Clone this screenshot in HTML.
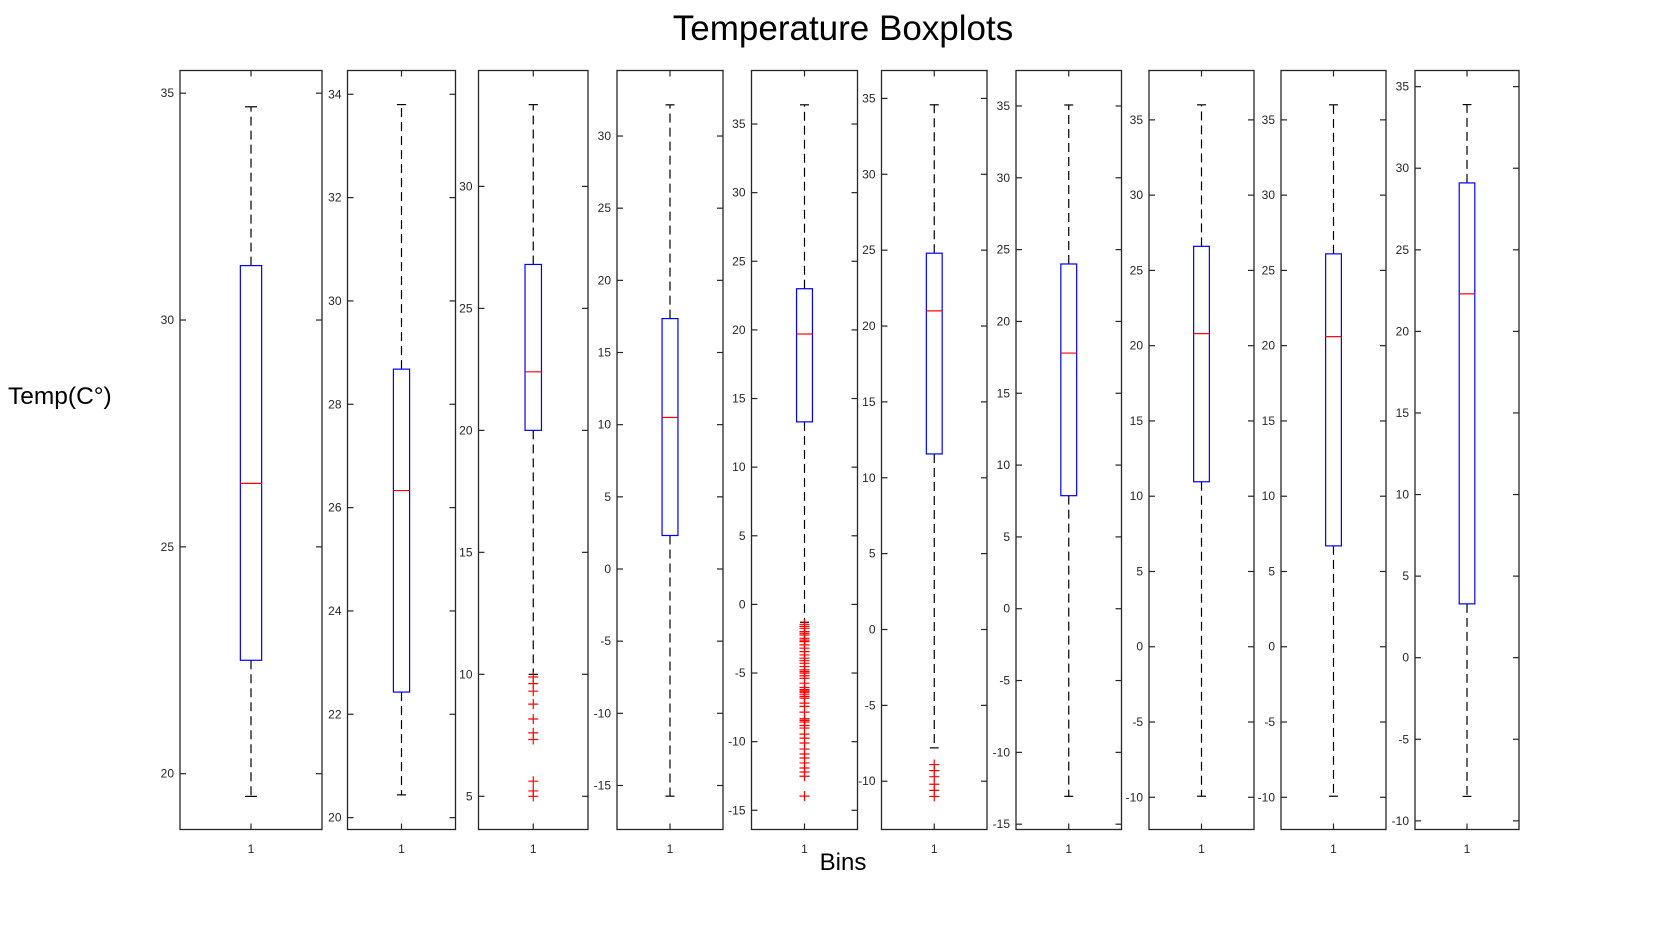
<!DOCTYPE html>
<html><head><meta charset="utf-8"><style>
html,body{margin:0;padding:0;background:#fff;}
svg{display:block;font-family:"Liberation Sans",Arial,sans-serif;}
</style></head><body>
<svg id="chart" width="1680" height="933" viewBox="0 0 1680 933" xmlns="http://www.w3.org/2000/svg">
<rect width="1680" height="933" fill="#fff"/>
<text x="843" y="40" text-anchor="middle" font-size="35" fill="#000">Temperature Boxplots</text>
<text x="8" y="404" font-size="24.5" fill="#000">Temp(C°)</text>
<text x="843" y="870" text-anchor="middle" font-size="24" fill="#000">Bins</text>
<g id="panels"></g>
</svg>
<script>
// Panel box-plot statistics
const binLabels = ["1","1","1","1","1","1","1","1","1","1"];
const whiskerLow = [19.5, 20.44, 10.0, -15.74, -1.3, -7.8, -13.06, -9.93, -9.93, -8.5];
const q1Values = [22.5, 22.43, 20.0, 2.32, 13.3, 11.57, 7.87, 10.96, 6.7, 3.3];
const medianValues = [26.4, 26.33, 22.4, 10.5, 19.7, 21.0, 17.8, 20.8, 20.6, 22.3];
const q3Values = [31.2, 28.68, 26.8, 17.35, 23.0, 24.8, 24.0, 26.6, 26.1, 29.1];
const whiskerHigh = [34.7, 33.8, 33.35, 32.16, 36.4, 34.58, 35.07, 36.0, 36.0, 33.9];
const yMinValues = [18.77, 19.77, 3.64, -18.05, -16.4, -13.18, -15.37, -12.14, -12.14, -10.53];
const yMaxValues = [35.5, 34.46, 34.75, 34.54, 38.9, 36.84, 37.47, 38.28, 38.28, 35.99];
const tickStart = [20, 20, 5, -15, -15, -10, -15, -10, -10, -10];
const tickEnd = [35, 34, 30, 30, 35, 35, 35, 35, 35, 35];
const tickStep = [5, 2, 5, 5, 5, 5, 5, 5, 5, 5];
const outliers3 = [9.89, 9.62, 9.31, 8.78, 8.17, 7.6, 7.33, 5.62, 5.22, 5.0];
const outliers5 = [-1.45,-1.6,-1.74,-1.98,-2.1,-2.23,-2.47,-2.6,-2.71,-2.95,-3.19,-3.44,-3.68,-3.92,-4.1,-4.29,-4.53,-4.77,-4.9,-5.01,-5.2,-5.38,-5.74,-6.05,-6.2,-6.3,-6.4,-6.54,-6.7,-6.83,-7.19,-7.43,-7.85,-8.33,-8.45,-8.57,-8.82,-9.01,-9.45,-9.74,-10.1,-10.54,-10.9,-11.19,-11.55,-11.92,-12.21,-12.52,-13.97];
const outliers6 = [-8.9, -9.3, -9.7, -10.2, -10.6, -11.0];
const outlierSets = [[], [], outliers3, [], outliers5, outliers6, [], [], [], []];

// layout (pixel geometry, not data)
const panelLeft = [180, 347.5, 478.5, 617, 751.5, 881.5, 1016, 1149, 1281, 1415];
const panelRight = [322, 455.5, 588, 723, 857.5, 987, 1121.5, 1254, 1386, 1519];
const TOP = 70.5, BOTTOM = 829.5;
const NS = "http://www.w3.org/2000/svg";
const g = document.getElementById('panels');
function mk(tag, attrs, parent){
  const e = document.createElementNS(NS, tag);
  for (const k in attrs) e.setAttribute(k, attrs[k]);
  (parent||g).appendChild(e);
  return e;
}
for (let i = 0; i < 10; i++) {
  const L = panelLeft[i], R = panelRight[i], W = R - L, cx = (L + R) / 2;
  const y = v => BOTTOM - (v - yMinValues[i]) / (yMaxValues[i] - yMinValues[i]) * (BOTTOM - TOP);
  const pg = mk('g', {});
  
  
  const frame = mk('rect', {x: L, y: TOP, width: W, height: BOTTOM - TOP, fill: 'none', stroke: '#262626', 'stroke-width': 1.3}, pg);
  
  
  for (let t = tickStart[i]; t <= tickEnd[i] + 1e-9; t += tickStep[i]) {
    const ty = y(t);
    mk('line', {x1: L, x2: L + 6, y1: ty, y2: ty, stroke: '#262626', 'stroke-width': 1.2}, pg);
    mk('line', {x1: R - 6, x2: R, y1: ty, y2: ty, stroke: '#262626', 'stroke-width': 1.2}, pg);
    const lbl = mk('text', {x: L - 6, y: ty + 4, 'text-anchor': 'end', 'font-size': 12, fill: '#262626'}, pg);
    lbl.textContent = String(t);
    
    
  }
  mk('line', {x1: cx, x2: cx, y1: TOP, y2: TOP + 6, stroke: '#262626', 'stroke-width': 1.2}, pg);
  mk('line', {x1: cx, x2: cx, y1: BOTTOM - 6, y2: BOTTOM, stroke: '#262626', 'stroke-width': 1.2}, pg);
  const xl = mk('text', {x: cx, y: 853, 'text-anchor': 'middle', 'font-size': 12, fill: '#262626'}, pg);
  xl.textContent = binLabels[i];
  
  
  const bw = W * 0.15, cw = W * 0.085;
  const wu = mk('line', {x1: cx, x2: cx, y1: y(q3Values[i]), y2: y(whiskerHigh[i]), stroke: '#000', 'stroke-width': 1.2, 'stroke-dasharray': '9,5'}, pg);
  
  
  const wl = mk('line', {x1: cx, x2: cx, y1: y(q1Values[i]), y2: y(whiskerLow[i]), stroke: '#000', 'stroke-width': 1.2, 'stroke-dasharray': '9,5'}, pg);
  
  
  mk('line', {x1: cx - cw / 2, x2: cx + cw / 2, y1: y(whiskerHigh[i]), y2: y(whiskerHigh[i]), stroke: '#000', 'stroke-width': 1.2}, pg);
  mk('line', {x1: cx - cw / 2, x2: cx + cw / 2, y1: y(whiskerLow[i]), y2: y(whiskerLow[i]), stroke: '#000', 'stroke-width': 1.2}, pg);
  const box = mk('rect', {x: cx - bw / 2, y: y(q3Values[i]), width: bw, height: y(q1Values[i]) - y(q3Values[i]), fill: 'none', stroke: '#0000ff', 'stroke-width': 1.2}, pg);
  
  
  const med = mk('line', {x1: cx - bw / 2, x2: cx + bw / 2, y1: y(medianValues[i]), y2: y(medianValues[i]), stroke: '#ff0000', 'stroke-width': 1.2}, pg);
  
  
  for (const o of outlierSets[i]) {
    const oy = y(o);
    const p = mk('path', {d: `M${cx - 5},${oy}H${cx + 5}M${cx},${oy - 5}V${oy + 5}`, stroke: '#ff0000', 'stroke-width': 1.2, fill: 'none'}, pg);
    
    
  }
}
</script>
</body></html>
